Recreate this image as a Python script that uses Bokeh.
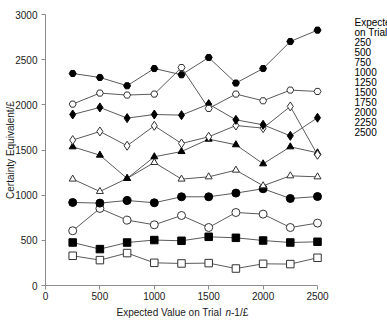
from bokeh.plotting import figure
from bokeh.models import Range1d, Label, FixedTicker
from bokeh.embed import file_html
from bokeh.resources import INLINE

# ---- data ----
x_values = [250, 500, 750, 1000, 1250, 1500, 1750, 2000, 2250, 2500]
series_names = ["250", "500", "750", "1000", "1250", "1500", "1750", "2000", "2250", "2500"]
ce_250 = [329, 281, 359, 251, 244, 248, 188, 240, 237, 307]
ce_500 = [476, 403, 476, 503, 495, 539, 528, 498, 476, 484]
ce_750 = [606, 853, 724, 672, 775, 642, 808, 790, 642, 691]
ce_1000 = [919, 912, 941, 916, 982, 982, 1023, 1071, 963, 985]
ce_1250 = [1178, 1041, 1185, 1362, 1178, 1203, 1277, 1104, 1214, 1203]
ce_1500 = [1535, 1443, 1185, 1425, 1483, 1620, 1558, 1347, 1535, 1469]
ce_1750 = [1610, 1705, 1547, 1768, 1572, 1646, 1771, 1742, 1982, 1447]
ce_2000 = [1893, 1971, 1853, 1893, 1886, 2008, 1834, 1779, 1657, 1857]
ce_2250 = [2008, 2130, 2108, 2119, 2413, 1960, 2119, 2045, 2163, 2148]
ce_2500 = [2347, 2303, 2211, 2402, 2333, 2524, 2241, 2402, 2701, 2827]
all_series = [ce_250, ce_500, ce_750, ce_1000, ce_1250, ce_1500, ce_1750, ce_2000, ce_2250, ce_2500]
x_ticks = [0, 500, 1000, 1500, 2000, 2500]
y_ticks = [0, 500, 1000, 1500, 2000, 2500, 3000]
legend_title = ["Expected Value", "on Trial n"]
x_label_parts = ["Expected Value on Trial ", "n", "-1/£"]
y_label = "Certainty Equivalent/£"

# ---- styles / layout ----
markers = ["square", "square", "circle", "circle", "triangle", "triangle",
           "diamond", "diamond", "hex", "hex"]
filled = [False, True, False, True, False, True, False, True, False, True]
sizes = [7.5, 7.5, 8, 8, 7, 7, 9, 9, 7, 7]
FONT = "Liberation Sans"
TXT = "#1a1a1a"

W, H = 387, 330
L, T = 45, 14                  # pixel position of the axes' origin corner (left, top)
AXIS_W, AXIS_H = 272, 271      # pixel lengths of the 0..2500 and 0..3000 axes
X0, X1, Y0, Y1 = 0, 2500, 0, 3000
# the frame covers the whole canvas; axes are pinned at the data origin
X_START = X0 - L * (X1 - X0) / AXIS_W
X_END = X0 + (W - L) * (X1 - X0) / AXIS_W
Y_START = Y0 - (H - T - AXIS_H) * (Y1 - Y0) / AXIS_H
Y_END = Y1 + T * (Y1 - Y0) / AXIS_H

def px_x(px):
    return X0 + (px - L) / AXIS_W * (X1 - X0)

def px_y(py):
    return Y0 + (T + AXIS_H - py) / AXIS_H * (Y1 - Y0)

p = figure(width=W, height=H, output_backend="svg", toolbar_location=None,
           x_range=Range1d(X_START, X_END), y_range=Range1d(Y_START, Y_END),
           min_border_left=0, min_border_right=0, min_border_top=0, min_border_bottom=0)
p.outline_line_color = None
p.xgrid.visible = False
p.ygrid.visible = False
p.background_fill_color = "white"
p.border_fill_color = "white"

for ax, ticks in ((p.xaxis, x_ticks), (p.yaxis, y_ticks)):
    ax.ticker = FixedTicker(ticks=ticks)
    ax.axis_line_color = "#8c8c8c"
    ax.major_tick_line_color = "#8c8c8c"
    ax.major_tick_in = 0
    ax.major_tick_out = 4
    ax.minor_tick_line_color = None
    ax.major_label_text_font = FONT
    ax.major_label_text_font_size = "10px"
    ax.major_label_text_color = TXT
    ax.axis_label_text_font = FONT
    ax.axis_label_text_font_size = "10px"
    ax.axis_label_text_font_style = "normal"
    ax.axis_label_text_color = TXT
p.xaxis.bounds = (X0, X1)
p.xaxis.fixed_location = Y0
p.yaxis.bounds = (Y0, Y1)
p.yaxis.fixed_location = X0
p.xaxis.major_label_standoff = 2
p.yaxis.major_label_standoff = 4
p.yaxis.axis_label = y_label
p.yaxis.axis_label_standoff = -4

for ys in all_series:
    p.line(x_values, ys, line_color="#5a5a5a", line_width=1)

for ys, m, f, s in zip(all_series, markers, filled, sizes):
    p.scatter(x_values, ys, marker=m, size=s,
              fill_color="black" if f else "white",
              line_color="black" if f else "#333333", line_width=1)

# x axis title with italic n
xs_px = [116, 224.9, 230.5]
styles = ["normal", "italic", "normal"]
for part, xp, st in zip(x_label_parts, xs_px, styles):
    p.add_layout(Label(x=px_x(xp), y=px_y(312), text=part, text_align="left",
                       text_baseline="middle", text_font=FONT, text_font_size="10px",
                       text_font_style=st, text_color=TXT))

# legend as text
legend_lines = legend_title + series_names
for i, t in enumerate(legend_lines):
    p.add_layout(Label(x=px_x(354), y=px_y(21.7 + 10 * i), text=t, text_align="left",
                       text_baseline="middle", text_font=FONT, text_font_size="10px",
                       text_color="black"))

open("out.html", "w").write(file_html(p, INLINE))
